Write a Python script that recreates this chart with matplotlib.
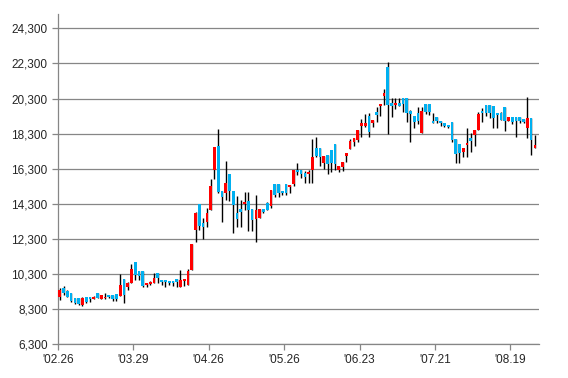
import numpy as np
import matplotlib
matplotlib.use("Agg")
import matplotlib.pyplot as plt

# daily OHLC (127 sessions)
opens = [9010, 9520, 9330, 9240, 8920, 8920, 8570, 8970, 9010, 8900,
         9200, 8880, 8920, 9140, 9110, 9160, 9050, 10020, 9580, 9770,
         11010, 10470, 10470, 9680, 9730, 9810, 10340, 9960, 9960, 9920,
         9920, 10000, 9580, 9920, 9680, 10530, 12810, 14270, 13230, 13280,
         13950, 16230, 17600, 15050, 14940, 16000, 15040, 13800, 13990, 14270,
         14460, 13990, 13430, 13470, 13990, 14330, 14200, 15430, 15430, 15050,
         15430, 15280, 15430, 16230, 16230, 16040, 16000, 16230, 17460, 17460,
         16650, 17080, 17370, 17700, 16250, 16420, 17030, 17420, 17820, 17940,
         18730, 18730, 19300, 18890, 19510, 19870, 20440, 22110, 20030, 19930,
         20030, 20310, 20310, 19620, 19300, 19490, 18320, 19970, 19970, 19020,
         19270, 19020, 18890, 18790, 18980, 17990, 17690, 17270, 17650, 18030,
         18220, 18510, 19610, 19930, 19930, 19870, 19490, 19460, 19800, 19040,
         19270, 19270, 19230, 19110, 18640, 19170, 17500]
highs = [9490, 9620, 9390, 9240, 8920, 8920, 8970, 8970, 9010, 9050,
         9200, 9110, 9200, 9140, 9110, 9160, 10280, 10020, 9870, 10870,
         11010, 10470, 10470, 9810, 9890, 10380, 10340, 9960, 9960, 9920,
         9920, 10000, 10530, 10000, 10570, 12010, 13850, 14270, 13470, 14040,
         15700, 17560, 18540, 15050, 16750, 16000, 15040, 14730, 14520, 14990,
         14990, 13990, 14800, 13990, 13990, 14420, 15090, 15430, 15430, 15050,
         15430, 15370, 16230, 16610, 16230, 16170, 16230, 17990, 18110, 17460,
         17030, 17080, 17370, 17700, 16470, 16700, 17220, 17970, 18030, 18510,
         19110, 19450, 19460, 19080, 19800, 19970, 20820, 22400, 20350, 20350,
         20350, 20310, 20310, 19650, 19300, 19840, 19840, 19970, 19970, 19460,
         19270, 19020, 18890, 18790, 18980, 17990, 17690, 17500, 18640, 18320,
         18510, 19550, 19740, 19930, 19930, 19870, 19490, 19550, 19800, 19270,
         19270, 19270, 19230, 19110, 20400, 19170, 18220]
lows = [8820, 9140, 8970, 8730, 8610, 8540, 8500, 8630, 8730, 8880,
        8920, 8880, 8880, 8920, 8780, 8790, 9050, 8630, 9390, 9770,
        9960, 9960, 9580, 9540, 9700, 9810, 9770, 9680, 9580, 9680,
        9620, 9580, 9580, 9620, 9680, 10530, 12150, 12810, 12280, 13000,
        13950, 15700, 14940, 13280, 14500, 14480, 12660, 12960, 13000, 13950,
        12770, 12770, 12150, 13470, 13760, 13950, 14040, 14690, 14700, 14800,
        14800, 14940, 15330, 15960, 15790, 15470, 15470, 15470, 17000, 16480,
        16300, 15990, 16130, 16250, 16130, 16190, 16700, 17420, 17610, 17800,
        18130, 18700, 18130, 18700, 18980, 19300, 19930, 18260, 19270, 19680,
        19890, 19550, 18980, 17840, 18640, 18830, 18320, 19400, 19350, 18890,
        18930, 18750, 18700, 18600, 17800, 16650, 16650, 16990, 16990, 17270,
        17610, 18510, 18980, 19300, 19200, 18640, 18640, 19080, 18450, 19040,
        18830, 18130, 18900, 18900, 18030, 17080, 17500]
closes = [9390, 9200, 9010, 8780, 8630, 8590, 8920, 8710, 8860, 9010,
          8920, 9110, 9010, 9010, 8880, 8860, 9680, 9110, 9770, 10570,
          10250, 10210, 9640, 9810, 9870, 10090, 10060, 9830, 9870, 9770,
          9810, 9870, 9960, 10000, 10470, 12010, 13760, 13040, 13000, 13760,
          15320, 17560, 15000, 14690, 15510, 15030, 14260, 13450, 13850, 14400,
          13950, 13380, 13950, 13990, 13850, 13950, 15090, 14800, 14900, 14940,
          14940, 15370, 16230, 16110, 15980, 15850, 16130, 16990, 17030, 16990,
          17030, 16570, 16650, 16590, 16470, 16700, 17220, 17890, 18030, 18510,
          18920, 18890, 18410, 19080, 19360, 19970, 20630, 19930, 19890, 20030,
          19890, 19970, 19460, 19420, 18980, 19020, 19590, 19510, 19510, 18890,
          19020, 18890, 18750, 18700, 17940, 17160, 17200, 17500, 17790, 17880,
          18510, 19400, 19490, 19460, 19460, 19170, 19360, 19080, 19040, 19230,
          18980, 19040, 19020, 18980, 19210, 17940, 17650]

tick_pos = [0, 20, 40, 60, 80, 100, 120]
tick_labels = ["'02.26", "'03.29", "'04.26", "'05.26", "'06.23", "'07.21", "'08.19"]
y_ticks = list(range(6300, 24301, 2000))

UP = "#ff0000"
DOWN = "#00b0f0"
AXIS = "#868686"

plt.rcParams["font.family"] = ["Liberation Sans", "DejaVu Sans"]

fig = plt.figure(figsize=(5.68, 3.78), dpi=100)
ax = fig.add_axes([0.102, 0.089, 0.847, 0.874])

o = np.array(opens, float); h = np.array(highs, float)
l = np.array(lows, float); c = np.array(closes, float)
x = np.arange(len(o))
up = c >= o
colors = np.where(up, UP, DOWN)

# wicks first, bodies on top
ax.vlines(x, l, h, color="black", lw=1.0, zorder=2)
bottom = np.minimum(o, c)
height = np.maximum(np.abs(c - o), 60)
ax.bar(x, height, bottom=bottom, width=0.72, color=colors, lw=0, zorder=3)

ax.set_ylim(6300, 25120)
ax.set_xlim(-0.5, len(o) + 0.1)
ax.set_yticks(y_ticks)
ax.set_yticklabels([f"{v:,}" for v in y_ticks])
ax.set_xticks([p - 0.5 for p in tick_pos])
ax.set_xticklabels(tick_labels)

ax.grid(axis="y", color=AXIS, lw=0.9, zorder=0)
ax.set_axisbelow(True)
for s in ("top", "right"):
    ax.spines[s].set_visible(False)
for s in ("left", "bottom"):
    ax.spines[s].set_color(AXIS)
    ax.spines[s].set_linewidth(0.9)
ax.tick_params(axis="both", colors=AXIS, length=4, width=0.9,
               labelsize=8.5, labelcolor="#262626")
ax.tick_params(axis="x", pad=3)

fig.savefig("out.png", dpi=100)
